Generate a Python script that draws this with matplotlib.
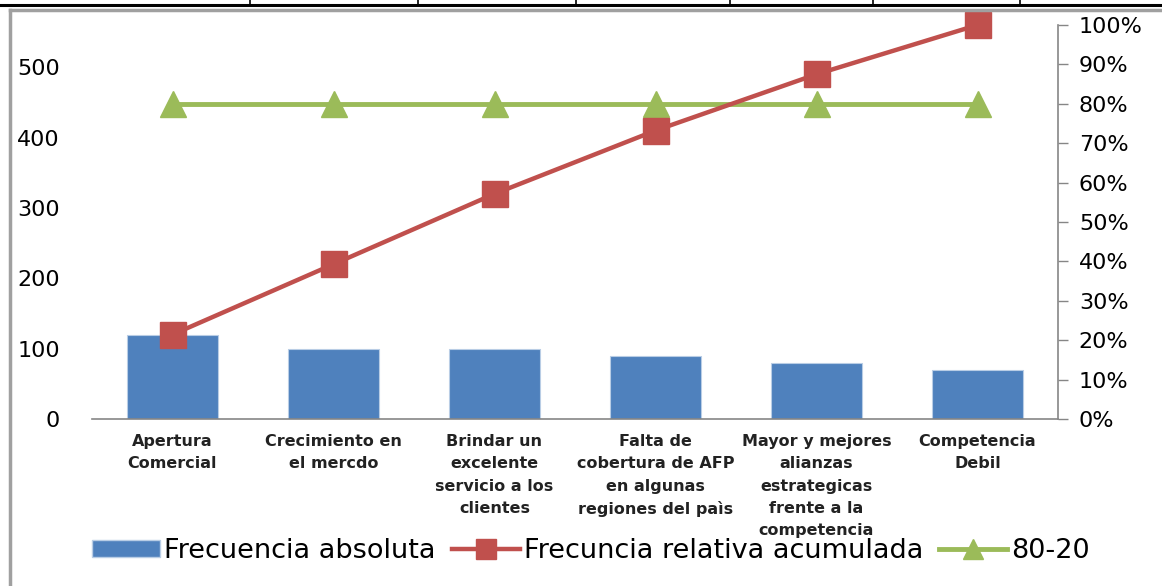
import matplotlib
matplotlib.use("Agg")
import matplotlib.pyplot as plt
from matplotlib.lines import Line2D
from matplotlib.patches import Patch
from matplotlib.ticker import FuncFormatter

# Pareto: causas y frecuencias
categorias = [
    "Apertura\nComercial",
    "Crecimiento en\nel mercdo",
    "Brindar un\nexcelente\nservicio a los\nclientes",
    "Falta de\ncobertura de AFP\nen algunas\nregiones del paìs",
    "Mayor y mejores\nalianzas\nestrategicas\nfrente a la\ncompetencia",
    "Competencia\nDebil",
]
frecuencia = [120, 100, 100, 90, 80, 70]
limite_80_20 = [0.8, 0.8, 0.8, 0.8, 0.8, 0.8]

total = sum(frecuencia)
acumulada = []
suma = 0
for f in frecuencia:
    suma += f
    acumulada.append(suma / total)

AZUL = "#4F81BD"
ROJO = "#C0504D"
VERDE = "#9BBB59"
GRIS = "#868686"

plt.rcParams["font.family"] = ["DejaVu Sans"]

W, H = 1162, 586
fig = plt.figure(figsize=(W / 100, H / 100), dpi=100)


def linea(x0, y0, x1, y1, **kw):
    # coordenadas en pixeles desde la esquina superior izquierda
    fig.add_artist(Line2D([x0 / W, x1 / W], [1 - y0 / H, 1 - y1 / H],
                          transform=fig.transFigure, **kw))


# celdas de la hoja y borde del grafico
linea(0, 5, W, 5, color="black", lw=2.2)
for xp in [250, 418, 576, 730, 873, 1020]:
    linea(xp, 0, xp, 5, color="black", lw=1.2)
linea(9.5, H, 9.5, 10, color="#A0A0A0", lw=2.5)
linea(9.5, 10, W, 10, color="#A0A0A0", lw=2.5)

ax = fig.add_axes([92 / W, 1 - 419 / H, (1058 - 92) / W, (419 - 25) / H])
ax2 = ax.twinx()

x = list(range(len(categorias)))
ax.bar(x, frecuencia, width=0.57, color=AZUL, edgecolor="#B9CDE5", linewidth=0.8, zorder=2)
ax.set_xlim(-0.5, len(categorias) - 0.5)
ax.set_ylim(0, 560)
ax.set_yticks([0, 100, 200, 300, 400, 500])
ax.set_xticks(x)
ax.set_xticklabels(categorias, fontsize=11.5, fontweight="bold", linespacing=1.6,
                   color="#222222")
ax.tick_params(axis="x", length=0, pad=11)
ax.tick_params(axis="y", length=0, pad=23, labelsize=16)

ax2.plot(x, acumulada, color=ROJO, lw=3.2, marker="s", markersize=19, zorder=4, clip_on=False)
ax2.plot(x, limite_80_20, color=VERDE, lw=3.5, marker="^", markersize=19, zorder=3, clip_on=False)
ax2.set_ylim(0, 1)
ax2.set_yticks([i / 10 for i in range(11)])
ax2.yaxis.set_major_formatter(FuncFormatter(lambda v, p: f"{v * 100:.0f}%"))
ax2.tick_params(axis="y", length=7, width=1, color=GRIS, pad=8, labelsize=16)

for a in (ax, ax2):
    for s in ["top", "left"]:
        a.spines[s].set_visible(False)
ax.spines["right"].set_visible(False)
ax2.spines["bottom"].set_visible(False)
ax.spines["bottom"].set_color(GRIS)
ax2.spines["right"].set_color(GRIS)
ax.spines["bottom"].set_linewidth(1.2)
ax2.spines["right"].set_linewidth(1.2)

handles = [
    Patch(facecolor=AZUL, edgecolor="#B9CDE5"),
    Line2D([], [], color=ROJO, lw=3.2, marker="s", markersize=15),
    Line2D([], [], color=VERDE, lw=3.5, marker="^", markersize=15),
]
labels = ["Frecuencia absoluta", "Frecuncia relativa acumulada", "80-20"]
fig.legend(handles, labels, loc="center", bbox_to_anchor=(591 / W, 1 - 551 / H),
           ncol=3, frameon=False, fontsize=19.5, handlelength=2.5, handletextpad=0.15,
           columnspacing=0.6, handleheight=0.6)

fig.savefig("out.png", dpi=100)
